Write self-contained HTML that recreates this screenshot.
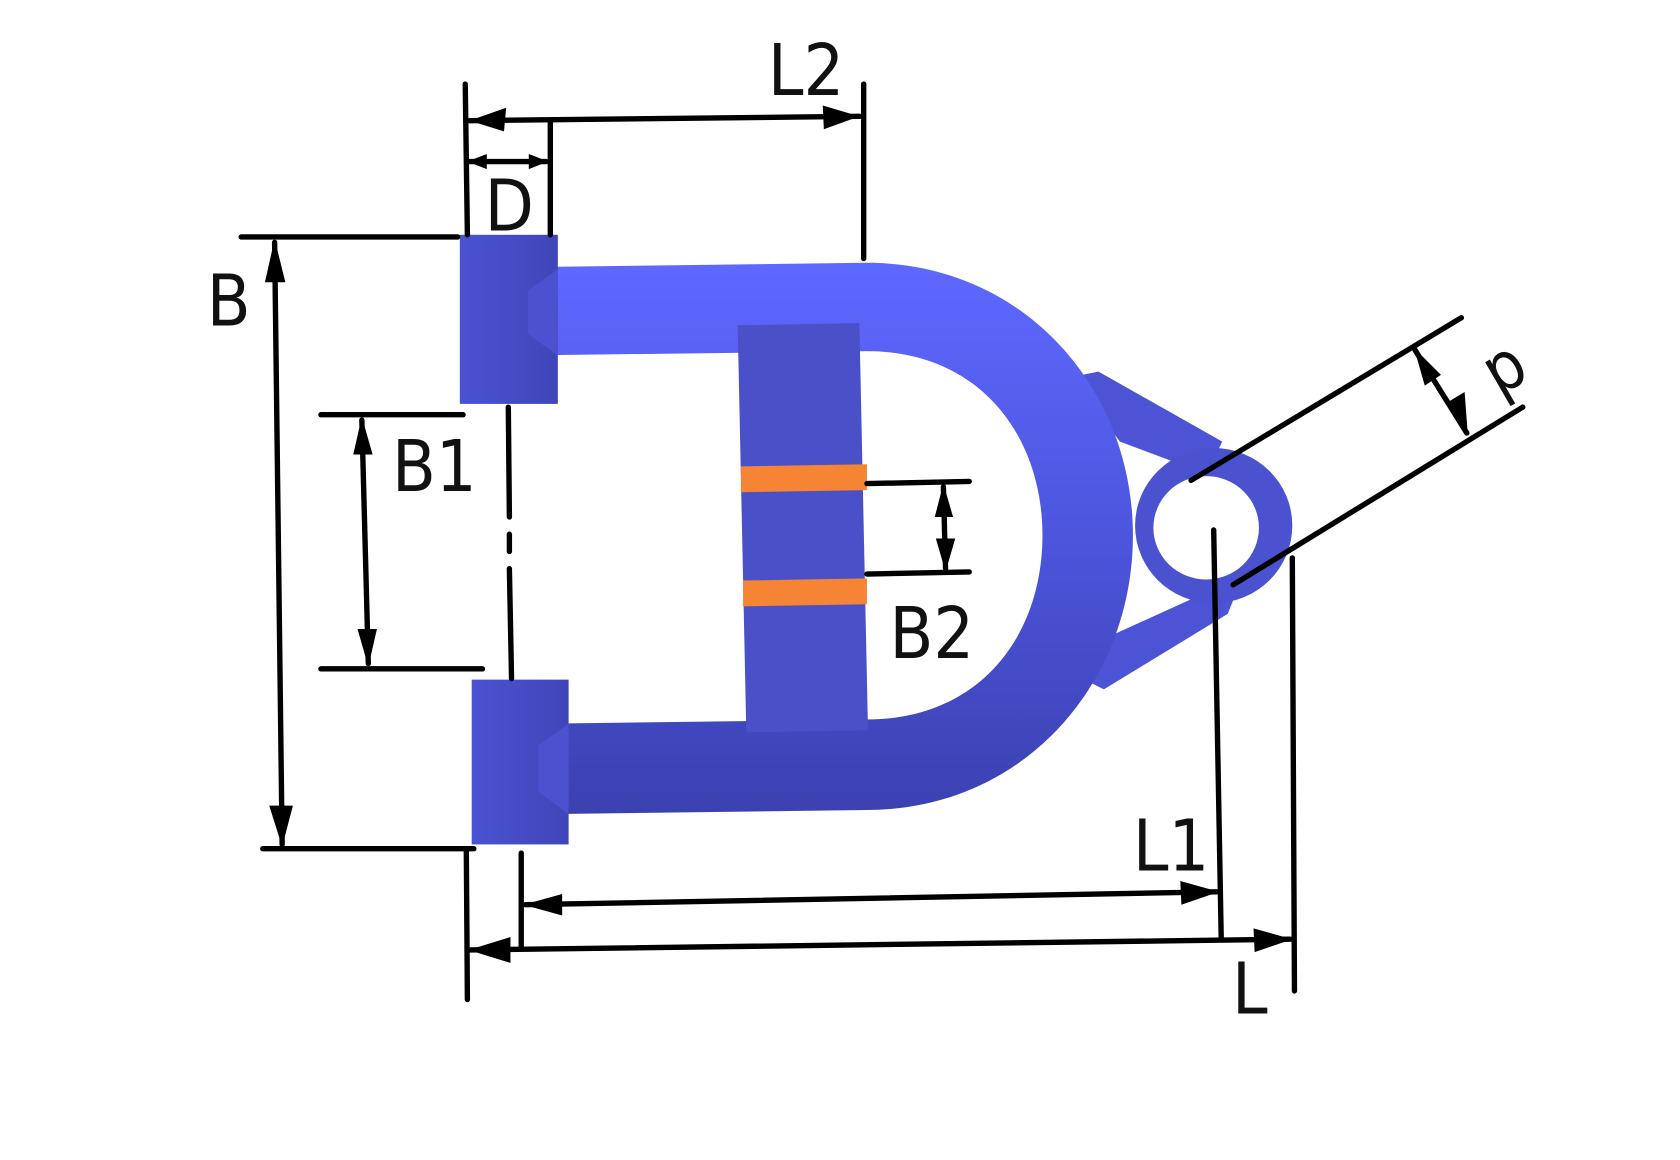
<!DOCTYPE html>
<html><head><meta charset="utf-8"><style>
html,body{margin:0;padding:0;background:#fff;width:1680px;height:1160px;overflow:hidden}
svg{display:block}
text{font-family:"DejaVu Sans Condensed","DejaVu Sans","Liberation Sans",sans-serif;fill:#111}
</style></head><body>
<svg width="1680" height="1160" viewBox="0 0 1560 1077" preserveAspectRatio="none" xmlns="http://www.w3.org/2000/svg">
<defs>
<linearGradient id="tube" x1="0" y1="0" x2="0" y2="1">
<stop offset="0" stop-color="#5f68ff"/><stop offset="0.5" stop-color="#4c55dc"/><stop offset="1" stop-color="#3b41b0"/>
</linearGradient>
<linearGradient id="blk" x1="0" y1="0" x2="1" y2="0">
<stop offset="0" stop-color="#4a52d2"/><stop offset="1" stop-color="#4046b8"/>
</linearGradient>
</defs>
<polygon points="995,350 1020,345 1135,410 1120,440 1040,410" fill="#4c53d4"/>
<polygon points="1010,600 1120,550 1150,545 1140,570 1025,640 1005,630" fill="#4c53d4"/>
<ellipse cx="1127" cy="488" rx="73" ry="72" fill="#4a52d0"/>
<ellipse cx="1120" cy="490" rx="49" ry="48" fill="#fff"/>
<path d="M490,248 L805,244 C950,244 1052,360 1052,497 C1052,635 950,752 805,752 L500,756 L500,672 L805,668 C910,668 968,590 968,497 C968,405 910,326 805,326 L490,330 Z" fill="url(#tube)"/>
<rect x="427" y="218" width="91" height="157" fill="url(#blk)"/>
<polygon points="518,250 490,270 490,310 518,330" fill="#4a52d0"/>
<rect x="438" y="631" width="90" height="153" fill="url(#blk)"/>
<polygon points="528,672 500,692 500,735 528,756" fill="#4a52d0"/>
<polygon points="685,302 798,300 806,678 693,680" fill="#4950c8"/>
<polygon points="688,433 805,431 805,455 688,457" fill="#f58535"/>
<polygon points="690,539 805,537 805,561 690,563" fill="#f58535"/>
<g stroke="#000" stroke-width="5" fill="none" stroke-linecap="round">
<line x1="432" y1="78" x2="434" y2="218"/>
<line x1="802" y1="78" x2="802" y2="240"/>
<line x1="436" y1="112" x2="798" y2="108"/>
<line x1="511" y1="112" x2="511" y2="218"/>
<line x1="436" y1="150" x2="507" y2="150"/>
<line x1="224" y1="220" x2="425" y2="220"/>
<line x1="244" y1="788" x2="440" y2="788"/>
<line x1="255" y1="225" x2="262" y2="784"/>
<line x1="298" y1="385" x2="430" y2="385"/>
<line x1="298" y1="621" x2="448" y2="621"/>
<line x1="336" y1="390" x2="342" y2="616"/>
<line x1="472" y1="378" x2="473" y2="480"/>
<line x1="473" y1="496" x2="473" y2="512"/>
<line x1="473" y1="528" x2="475" y2="630"/>
<line x1="805" y1="449" x2="900" y2="447"/>
<line x1="805" y1="533" x2="900" y2="531"/>
<line x1="876" y1="452" x2="878" y2="528"/>
<line x1="433" y1="788" x2="434" y2="928"/>
<line x1="484" y1="792" x2="484" y2="880"/>
<line x1="1127" y1="492" x2="1134" y2="872"/>
<line x1="1200" y1="518" x2="1202" y2="920"/>
<line x1="488" y1="840" x2="1130" y2="828"/>
<line x1="437" y1="882" x2="1198" y2="872"/>
<line x1="1106" y1="446" x2="1357" y2="295"/>
<line x1="1145" y1="543" x2="1414" y2="378"/>
<line x1="1314" y1="325" x2="1362" y2="402"/>
</g>
<g fill="#000">
<polygon points="436,112 470,100 468,122"/><polygon points="798,108 764,98 765,120"/>
<polygon points="434,150 452,143 452,157"/><polygon points="509,150 491,143 491,157"/>
<polygon points="255,222 246,262 265,262"/><polygon points="262,786 250,748 272,748"/>
<polygon points="336,387 328,422 346,422"/><polygon points="342,619 332,584 350,584"/>
<polygon points="876,449 868,480 885,480"/><polygon points="878,531 869,500 887,500"/>
<polygon points="486,840 522,830 522,850"/><polygon points="1132,828 1096,818 1097,840"/>
<polygon points="435,882 474,870 474,894"/><polygon points="1200,872 1164,862 1165,884"/>
<polygon points="1313,323 1323,358 1338,348"/><polygon points="1363,404 1345,373 1360,364"/>
</g>
<text x="713" y="88" font-size="66">L2</text>
<text x="450" y="214" font-size="66">D</text>
<text x="192" y="302" font-size="66">B</text>
<text x="364" y="456" font-size="66">B1</text>
<text x="826" y="611" font-size="66">B2</text>
<text x="1052" y="808" font-size="66">L1</text>
<text x="1144" y="941" font-size="66">L</text>
<text x="0" y="0" font-size="62" text-anchor="middle" transform="translate(1390,330) rotate(150)">d</text>
</svg>
</body></html>
